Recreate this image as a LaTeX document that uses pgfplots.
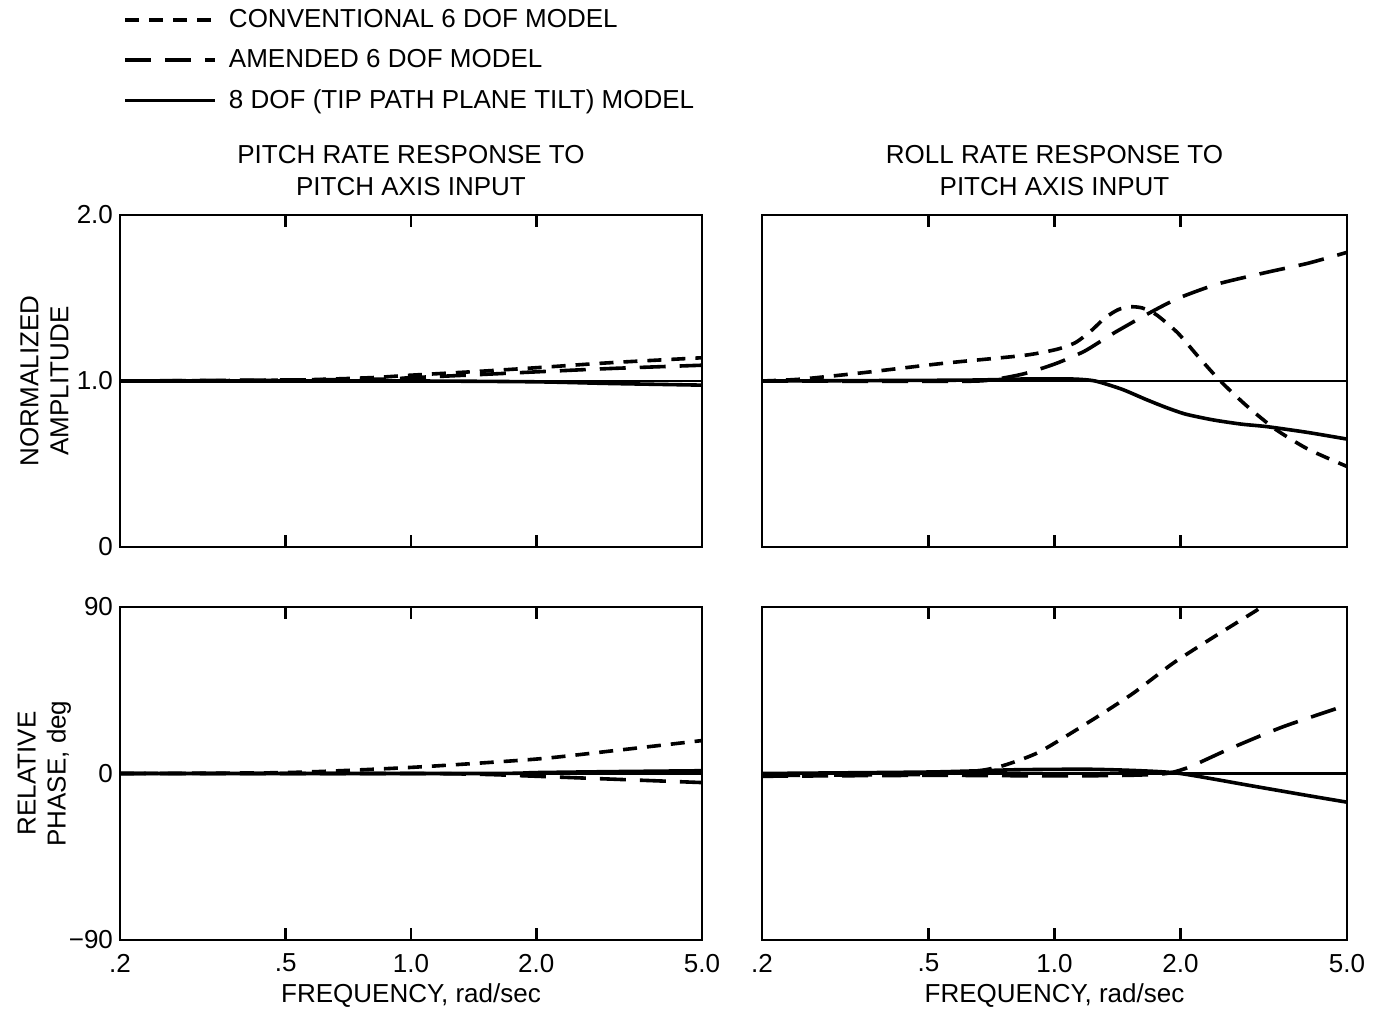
\documentclass[border=0pt]{standalone}
\usepackage{pgfplots}
\pgfplotsset{compat=1.18}
\usepackage{fontspec}
\setmainfont{Liberation Sans}
\begin{document}
\begin{tikzpicture}
\useasboundingbox (0,0) rectangle (688pt,506pt);
\pgfplotsset{
  every axis/.append style={
    scale only axis, xmode=log, xmin=0.2, xmax=5,
    enlargelimits=false, axis line style={line width=1.2pt},
    xtick={0.2,0.5,1,2,5}, xminorticks=false, yminorticks=false,
    major tick length=6pt, tick align=inside,
    xtick style={line width=1.2pt, black},
    ytick style={draw=none},
    font=\fontsize{13}{15}\selectfont,
    tick label style={font=\fontsize{13}{15}\selectfont},
    clip=true,
  },
  conv/.style={black, line width=1.8pt, dash pattern=on 7pt off 5pt, smooth, tension=0.4},
  amen/.style={black, line width=1.8pt, dash pattern=on 13pt off 7pt, smooth, tension=0.4},
  tip/.style={black, line width=1.8pt, smooth, tension=0.4},
  refl/.style={black, line width=1.1pt},
  amp/.style={ymin=0, ymax=2, ytick={0,1,2}},
  pha/.style={ymin=-90, ymax=90, ytick={-90,0,90}},
  ttl/.style={title style={align=center, font=\fontsize{13}{16}\selectfont, yshift=0pt}},
}
% ---------------- top left ----------------
\begin{axis}[at={(60pt,232.5pt)}, anchor=south west, width=291pt, height=166pt,
  amp, yticklabels={0,1.0,2.0}, xticklabels={},
  ttl, title={PITCH RATE RESPONSE TO\\PITCH AXIS INPUT},
  ylabel={NORMALIZED\\AMPLITUDE}, ylabel style={align=center, at={(axis description cs:-0.13,0.5)}, anchor=center},
  legend style={at={(axis description cs:0,1)}, anchor=north west, xshift=1.5pt, yshift=105pt,
    draw=none, fill=none, font=\fontsize{13}{15}\selectfont, row sep=5.5pt, inner sep=0pt},
  legend cell align=left,
  legend image code/.code={\draw[#1] (0pt,0pt) -- (45pt,0pt); \path (49pt,0pt);},
]
\addplot[conv] coordinates {(0.2,1.0) (0.5,1.005) (0.8,1.02) (1.0,1.035) (1.5,1.06) (2.0,1.08) (3.0,1.11) (5.0,1.14)};
\addlegendentry{CONVENTIONAL 6 DOF MODEL}
\addplot[amen] coordinates {(0.2,1.0) (0.8,1.01) (1.0,1.02) (1.5,1.04) (2.0,1.055) (3.0,1.075) (5.0,1.095)};
\addlegendentry{AMENDED 6 DOF MODEL}
\addplot[tip] coordinates {(0.2,1.0) (1.0,1.0) (2.0,0.995) (3.0,0.985) (5.0,0.975)};
\addlegendentry{8 DOF (TIP PATH PLANE TILT) MODEL}
\addplot[refl, forget plot] coordinates {(0.2,1.0) (5.0,1.0)};
\end{axis}
% ---------------- top right ----------------
\begin{axis}[at={(381pt,232.5pt)}, anchor=south west, width=292.5pt, height=166pt,
  amp, yticklabels={}, xticklabels={},
  ttl, title={ROLL RATE RESPONSE TO\\PITCH AXIS INPUT},
]
\addplot[conv] coordinates {(0.2,1.0) (0.247,1.011) (0.346,1.049) (0.54,1.106) (0.844,1.154) (1.01,1.19) (1.12,1.23) (1.22,1.30) (1.32,1.38) (1.42,1.43) (1.52,1.447) (1.62,1.44) (1.75,1.40) (1.97,1.29) (2.2,1.15) (2.49,1.0) (2.88,0.85) (3.37,0.71) (4.03,0.59) (5.0,0.485)};
\addplot[amen] coordinates {(0.2,1.0) (0.6,0.998) (0.72,1.01) (0.85,1.045) (1.01,1.106) (1.18,1.18) (1.38,1.286) (1.65,1.397) (1.97,1.497) (2.46,1.585) (3.22,1.655) (4.03,1.709) (5.0,1.775)};
\addplot[tip] coordinates {(0.2,1.0) (0.6,1.005) (0.844,1.012) (1.1,1.012) (1.25,1.0) (1.45,0.95) (1.65,0.89) (1.85,0.84) (2.06,0.80) (2.4,0.765) (2.8,0.74) (3.22,0.725) (4.03,0.69) (5.0,0.65)};
\addplot[refl] coordinates {(0.2,1.0) (5.0,1.0)};
\end{axis}
% ---------------- bottom left ----------------
\begin{axis}[at={(60pt,36pt)}, anchor=south west, width=291pt, height=166.5pt,
  pha, yticklabels={−90,0,90}, xticklabels={.2,.5,1.0,2.0,5.0},
  ylabel={RELATIVE\\PHASE, deg}, ylabel style={align=center, at={(axis description cs:-0.13,0.5)}, anchor=center},
  xlabel={FREQUENCY, rad/sec}, xlabel style={at={(axis description cs:0.5,0)}, anchor=center, yshift=-28pt},
  xticklabel style={yshift=-3.5pt},
]
\addplot[conv] coordinates {(0.2,0) (0.5,0.5) (1.0,3.3) (2.0,7.8) (3.06,12.3) (5.0,17.8)};
\addplot[amen] coordinates {(0.2,0) (1.0,0) (1.5,-0.5) (2.0,-1.5) (3.0,-3.0) (5.0,-4.9)};
\addplot[tip] coordinates {(0.2,0) (1.5,0) (2.0,0.5) (3.0,1.0) (5.0,1.5)};
\addplot[refl] coordinates {(0.2,0) (5.0,0)};
\end{axis}
% ---------------- bottom right ----------------
\begin{axis}[at={(381pt,36pt)}, anchor=south west, width=292.5pt, height=166.5pt,
  pha, yticklabels={}, xticklabels={.2,.5,1.0,2.0,5.0},
  xlabel={FREQUENCY, rad/sec}, xlabel style={at={(axis description cs:0.5,0)}, anchor=center, yshift=-28pt},
  xticklabel style={yshift=-3.5pt},
]
\addplot[conv] coordinates {(0.2,-1) (0.5,-0.5) (0.66,1.5) (0.76,4.5) (0.921,11.7) (1.23,28.9) (1.54,43.3) (1.92,59.6) (2.41,74) (3.05,88.4) (3.15,91)};
\addplot[amen] coordinates {(0.2,-1.5) (0.5,-1.0) (1.0,-1.3) (1.5,-1.0) (1.85,0) (2.1,3.5) (2.63,13.5) (3.52,25.3) (5.0,37)};
\addplot[tip] coordinates {(0.2,0) (0.5,0.8) (0.8,2.0) (1.2,2.3) (1.6,1.5) (2.0,0) (3.0,-6.9) (4.0,-11.8) (5.0,-15.5)};
\addplot[refl] coordinates {(0.2,0) (5.0,0)};
\end{axis}
\end{tikzpicture}
\end{document}
